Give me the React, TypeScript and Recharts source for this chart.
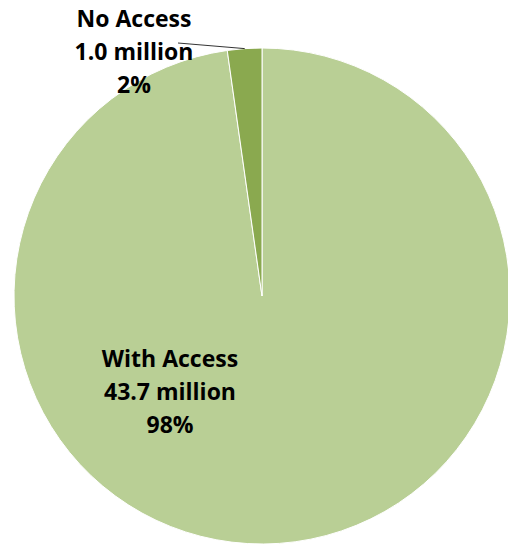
import React from "react";
import { PieChart, Pie, Cell } from "recharts";

const categories = ["With Access", "No Access"];
const millions = [43.7, 1.0];
const shares = ["98%", "2%"];
const colors = ["#b9cf95", "#8aa94f"];

const data = categories.map((name, i) => ({
  name,
  value: millions[i],
  share: shares[i],
}));

const FONT = "'Open Sans', sans-serif";

// label placement in the spirit of the original spreadsheet chart
const renderLabel = (props: any) => {
  const { cx, cy, outerRadius, index, payload } = props;
  const lines = [
    payload.name,
    `${payload.value.toFixed(1)} million`,
    payload.share,
  ];
  let x: number;
  let y: number;
  let leader: React.ReactNode = null;
  if (index === 0) {
    x = cx - 92;
    y = cy + 71;
  } else {
    x = cx - 128;
    y = cy - 269;
    const a = ((90 + 4) * Math.PI) / 180;
    const ex = cx + outerRadius * Math.cos(a);
    const ey = cy - outerRadius * Math.sin(a);
    leader = (
      <line x1={x + 44} y1={y + 16} x2={ex} y2={ey} stroke="#000" strokeWidth={0.8} />
    );
  }
  return (
    <g key={`lbl-${index}`}>
      {leader}
      <text
        x={x}
        y={y}
        textAnchor="middle"
        fontFamily={FONT}
        fontWeight={700}
        fontSize={23}
        fill="#000"
      >
        {lines.map((t, i) => (
          <tspan key={i} x={x} dy={i === 0 ? 0 : 33}>
            {t}
          </tspan>
        ))}
      </text>
    </g>
  );
};

export default function App() {
  return (
    <div style={{ position: "absolute", left: 0, top: 0, width: 508, height: 545, background: "#fff" }}>
      <PieChart width={508} height={545} margin={{ top: 0, right: 0, bottom: 0, left: 0 }}>
        <Pie
          data={data}
          dataKey="value"
          nameKey="name"
          cx={262}
          cy={296}
          outerRadius={248}
          startAngle={90}
          endAngle={-270}
          stroke="#ffffff"
          strokeWidth={1}
          label={renderLabel}
          labelLine={false}
          isAnimationActive={false}
        >
          {data.map((d, i) => (
            <Cell key={d.name} fill={colors[i]} />
          ))}
        </Pie>
      </PieChart>
    </div>
  );
}
